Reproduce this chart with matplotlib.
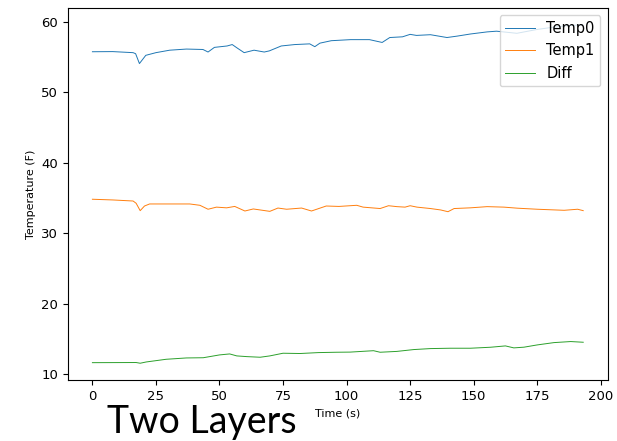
import matplotlib
matplotlib.use('Agg')
import matplotlib.pyplot as plt

# values (time in s, temperature in F)
t_temp0 = [0, 8, 16, 17, 18.5, 21, 25, 30.4, 37, 43.5, 45.5, 48, 53, 55, 57,
           59.7, 63.6, 67.6, 69.6, 74.3, 79.6, 85.5, 87.5, 89.5, 94, 101.6,
           109, 114, 117, 122, 125, 127.5, 133, 139.5, 143.5, 148.7, 155.3,
           159, 167, 175, 180, 187, 193]
temp0 = [55.78, 55.8, 55.65, 55.5, 54.1, 55.27, 55.65, 56.0, 56.16, 56.1,
         55.74, 56.4, 56.6, 56.8, 56.3, 55.65, 56.0, 55.74, 55.9, 56.6, 56.8,
         56.9, 56.5, 57.0, 57.35, 57.5, 57.5, 57.1, 57.8, 57.9, 58.25, 58.1,
         58.2, 57.8, 58.0, 58.3, 58.6, 58.7, 58.4, 58.95, 59.2, 59.5, 59.6]

t_temp1 = [0, 8, 16, 17.2, 18.8, 20.5, 22.5, 29, 38.3, 42.3, 45.5, 48.8,
           52.8, 56, 60, 63.3, 69.8, 73, 76.4, 82.3, 86.2, 92, 97, 104, 106.5,
           113.2, 116.5, 119.8, 123, 125, 127.7, 133, 137, 139.9, 142.3,
           148.7, 155.3, 161.9, 167.2, 175, 185.6, 190.9, 193.1]
temp1 = [34.82, 34.72, 34.57, 34.25, 33.2, 33.86, 34.15, 34.15, 34.15, 33.96,
         33.4, 33.7, 33.6, 33.8, 33.15, 33.44, 33.1, 33.57, 33.4, 33.57,
         33.15, 33.86, 33.8, 33.96, 33.7, 33.5, 33.9, 33.77, 33.7, 33.9,
         33.7, 33.5, 33.3, 33.05, 33.5, 33.6, 33.77, 33.7, 33.55, 33.4,
         33.25, 33.4, 33.2]

t_diff = [0, 17.2, 18.8, 21.2, 29, 37, 43.6, 50, 54, 56.8, 60.7, 66, 69.8,
          75, 81.7, 88.9, 96, 101.4, 110.6, 113.2, 119.8, 126.4, 133, 140.8,
          148.7, 156.6, 162.5, 165.8, 169.8, 175, 181.6, 188.2, 193.1]
diff = [11.6, 11.62, 11.52, 11.7, 12.08, 12.27, 12.3, 12.7, 12.84, 12.56,
        12.46, 12.37, 12.56, 12.94, 12.9, 13.03, 13.08, 13.1, 13.3, 13.08,
        13.2, 13.46, 13.6, 13.65, 13.65, 13.79, 13.98, 13.7, 13.8, 14.12,
        14.45, 14.6, 14.5]

plt.rcParams['font.size'] = 9.5

fig = plt.figure(figsize=(6.17, 4.41), dpi=100)
ax = fig.add_axes([0.110, 0.138, 0.875, 0.844])

ax.plot(t_temp0, temp0, color='tab:blue', linewidth=0.7, label='Temp0')
ax.plot(t_temp1, temp1, color='tab:orange', linewidth=0.7, label='Temp1')
ax.plot(t_diff, diff, color='tab:green', linewidth=0.7, label='Diff')

ax.set_xlabel('Time (s)', fontsize=8)
ax.set_ylabel('Temperature (F)', fontsize=8)
ax.set_xticks(range(0, 201, 25))
ax.set_yticks(range(10, 61, 10))
ax.legend(loc='upper right', fontsize=10.5)

# slide caption overlapping the figure
fig.text(107 / 617, 1 - 433 / 441, 'Two Layers', family='Lato',
         fontsize=27, va='baseline', ha='left')

fig.savefig('out.png', dpi=100)
